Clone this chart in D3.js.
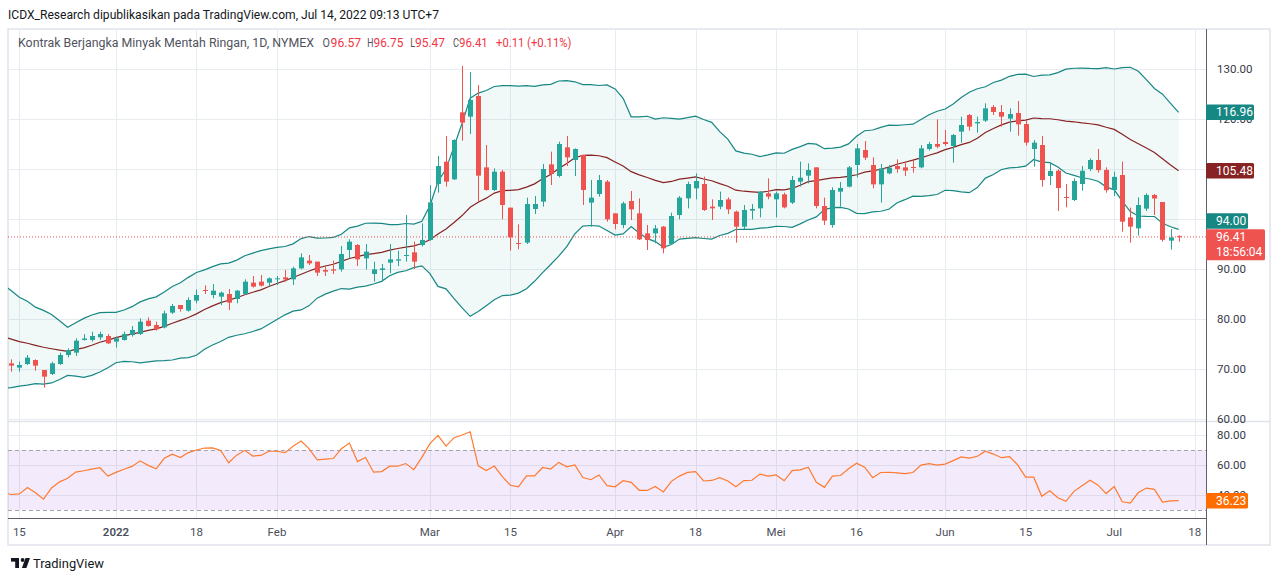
<!DOCTYPE html>
<html>
<head>
<meta charset="utf-8">
<script src="https://cdnjs.cloudflare.com/ajax/libs/d3/7.8.5/d3.min.js"></script>
<style>
  body { margin: 0; background: #fff; }
  svg { display: block; font-family: Roboto, "Noto Sans", sans-serif; }
</style>
</head>
<body>
<svg id="chart" width="1280" height="581"></svg>
<script>
// Crude oil futures (CL, NYMEX) daily candles, Bollinger Bands (20, 2) and RSI (14)

// daily bars from Dec 14 2021 to Jul 14 2022
const opens = [71.13,70.27,71.0,71.8,69.8,69.0,71.0,72.8,73.27,75.8,
  75.8,76.33,76.6,75.47,75.8,76.8,77.0,79.67,78.8,78.33,
  81.27,82.8,81.67,83.67,85.8,84.8,84.47,85.0,84.0,85.0,
  87.27,87.47,87.27,87.93,88.33,87.93,90.13,91.67,91.47,89.8,
  89.93,89.93,93.8,94.8,92.13,89.0,89.8,91.27,91.67,92.6,
  93.33,94.8,95.8,107.0,111.47,107.93,121.33,120.47,124.6,110.33,
  105.8,109.47,102.27,95.2,95.27,102.0,103.47,110.93,108.6,114.33,
  111.8,112.8,103.27,105.0,107.47,101.13,98.8,103.6,101.13,97.13,
  97.13,98.47,95.0,100.8,104.13,106.13,107.0,102.47,102.47,103.93,
  101.47,98.47,101.67,102.13,105.13,103.93,104.93,103.27,107.47,108.67,
  110.33,102.6,98.8,105.47,106.47,110.8,113.8,110.8,106.93,109.13,
  110.6,110.33,110.4,110.33,114.0,115.0,115.4,114.6,117.47,120.8,
  119.13,119.67,122.4,121.4,120.07,121.2,119.0,114.0,114.8,108.6,
  109.67,104.4,103.8,107.0,110.0,111.8,109.8,105.8,108.8,100.33,
  98.13,102.07,104.8,103.4,95.67,96.57];
const highs = [71.93,71.47,72.8,71.93,69.8,71.47,73.27,74.13,76.13,76.97,
  77.47,77.47,77.0,76.47,77.47,78.6,80.13,80.33,79.47,81.67,
  83.0,82.8,84.33,85.93,86.73,87.0,85.47,86.0,85.8,87.93,
  88.6,88.8,88.33,88.6,89.8,90.47,93.13,92.8,91.47,90.6,
  91.67,94.6,95.93,95.0,95.0,91.47,91.0,95.0,93.67,100.8,
  95.47,99.13,106.8,112.6,116.6,115.93,130.6,129.4,126.8,114.8,
  110.13,109.8,102.27,98.93,104.27,104.6,111.0,113.47,115.47,116.6,
  114.13,112.8,107.8,108.8,107.8,101.13,103.47,105.6,104.13,98.8,
  98.8,98.6,101.27,104.6,107.47,109.13,108.47,103.93,105.47,104.33,
  101.67,102.8,103.0,105.6,108.13,105.47,105.27,108.6,111.47,111.13,
  110.33,104.27,106.33,107.4,110.6,115.0,115.6,112.33,111.0,110.8,
  111.93,111.47,111.6,114.8,115.4,119.93,117.8,117.0,120.47,121.0,
  120.47,123.13,122.8,122.8,122.13,123.6,119.8,115.8,116.6,111.13,
  109.93,107.0,108.13,110.6,112.13,114.0,110.33,109.47,111.47,102.27,
  104.33,105.13,105.0,103.4,98.0,96.75];
const lows = [69.47,69.47,70.8,69.67,66.27,68.8,70.8,72.33,72.6,75.67,
  75.47,75.8,75.0,74.27,75.67,76.47,76.8,78.47,77.67,78.13,
  81.0,81.47,81.47,83.13,85.0,84.13,82.8,81.8,83.13,84.8,
  86.27,86.47,86.47,86.8,87.47,86.8,89.93,90.8,88.6,88.6,
  89.0,89.47,92.13,90.6,89.93,87.47,87.47,89.13,90.6,91.47,
  90.0,94.5,95.67,105.27,106.47,107.8,115.67,117.0,103.47,105.67,
  105.6,99.93,93.67,93.93,95.0,101.0,102.47,106.8,108.33,110.6,
  108.6,102.8,98.47,104.47,99.47,97.93,98.13,99.8,95.8,93.8,
  95.13,93.13,94.8,99.93,102.13,103.93,101.6,99.8,101.93,101.0,
  95.27,97.93,99.93,100.33,103.93,100.33,102.13,103.0,106.47,107.13,
  102.13,98.8,98.27,102.47,106.33,108.33,111.8,106.13,103.27,108.93,
  109.27,108.6,109.27,110.13,113.67,114.13,114.6,111.27,115.27,117.67,
  117.27,119.4,120.8,118.47,117.47,116.67,114.67,110.47,106.47,106.8,
  101.6,102.33,103.6,105.67,109.6,109.27,105.27,104.6,97.47,95.27,
  96.67,101.6,100.8,95.47,93.87,95.47];
const closes = [70.67,70.8,72.27,70.67,68.47,71.13,72.8,73.8,75.67,76.1,
  76.6,77.0,75.13,76.13,77.0,77.8,79.47,78.6,77.93,81.13,
  82.6,82.0,83.8,84.8,85.6,85.67,85.27,83.27,85.67,87.47,
  86.47,86.67,88.13,88.13,87.93,90.13,92.33,91.13,89.27,89.47,
  89.67,93.0,95.47,91.93,93.47,89.93,90.13,91.93,91.93,92.8,
  91.47,95.8,103.33,110.6,107.47,115.8,119.27,123.8,108.67,105.8,
  109.47,102.8,96.33,95.0,103.0,103.0,110.0,109.0,115.0,112.33,
  114.0,105.8,104.27,107.8,99.93,99.0,103.13,101.93,95.93,95.8,
  98.13,94.13,100.6,104.27,107.0,107.6,101.8,102.13,103.8,101.93,
  98.47,101.8,102.0,105.47,104.47,105.13,102.33,107.8,108.27,109.8,
  102.6,99.67,105.8,106.2,110.33,114.13,112.27,106.93,110.13,110.27,
  110.0,109.67,110.2,114.13,115.0,114.47,115.0,116.8,118.8,118.47,
  119.4,122.13,121.4,120.47,121.0,118.93,115.27,115.27,107.8,109.6,
  106.19,104.27,107.6,109.65,111.8,109.78,105.76,108.43,99.47,98.47,
  102.8,104.8,104.09,95.84,96.30,96.41];

// closes before the first visible bar (Nov 1 - Dec 13 2021), only to warm up the bands and RSI
const warmupCloses = [84.05,83.91,80.86,78.81,81.27,81.93,84.15,81.34,81.59,80.79,
  80.88,80.76,78.36,79.01,76.10,76.75,78.50,78.39,68.15,69.95,
  66.18,65.57,66.50,66.26,69.49,72.05,72.36,70.94,71.67,71.29];

// time axis: bar index of each label
const tickBars = [1, 13, 23, 33, 52, 62, 75, 85, 95, 105, 116, 126, 137, 147];
const tickLabels = ["15", "2022", "18", "Feb", "Mar", "15", "Apr", "18", "Mei", "16", "Jun", "15", "Jul", "18"];
const priceTicks = [130, 120, 110, 100, 90, 80, 70, 60];
const rsiTicks = [80, 60, 40];
const rsiBands = [70, 30];
const countdown = "18:56:04";

const upCol = "#26a69a", downCol = "#ef5350", bandColor = "#178784", basisColor = "#872323",
  rsiColor = "#ff7a2e", gridColor = "#e7ecf1", axisText = "#4a4e59";

const svg = d3.select("#chart");
const pLeft = 8, pRight = 1206, boxRight = 1270, pTop = 29,
  mainBottom = 421, rsiTop = 422, rsiBottom = 518, boxBottom = 545;

const x = d3.scaleLinear().domain([0, 145]).range([11.3, 1178.6]);
const y = d3.scaleLinear().domain([60, 130]).range([419, 69]);
// the bands sit on their own (unpinned) scale in the original
const yBand = d3.scaleLinear().domain([94, 116.96]).range([229.3, 112.3]);
const yRsi = d3.scaleLinear().domain([30, 80]).range([510, 435]);

// ---- indicators
const all = warmupCloses.concat(closes);
const off = warmupCloses.length;
const bands = [];
for (let k = off - 1; k < all.length; k++) {
  const w = all.slice(k - 19, k + 1);
  const m = d3.mean(w);
  const sd = Math.sqrt(d3.mean(w, v => (v - m) * (v - m)));
  bands.push({ i: k - off, basis: m, upper: m + 2 * sd, lower: m - 2 * sd });
}
const rsi = [];
let avgUp = 0, avgDn = 0;
for (let k = 1; k < all.length; k++) {
  const ch = all[k] - all[k - 1];
  const u = Math.max(ch, 0), d = Math.max(-ch, 0);
  if (k <= 14) {
    avgUp += u / 14; avgDn += d / 14;
  } else {
    avgUp = (avgUp * 13 + u) / 14; avgDn = (avgDn * 13 + d) / 14;
  }
  if (k >= 14 && k >= off - 1) {
    rsi.push({ i: k - off, v: avgDn === 0 ? 100 : 100 - 100 / (1 + avgUp / avgDn) });
  }
}

// ---- frame
const defs = svg.append("defs");
defs.append("clipPath").attr("id", "clipMain").append("rect")
  .attr("x", pLeft).attr("y", pTop).attr("width", pRight - pLeft).attr("height", mainBottom - pTop);
defs.append("clipPath").attr("id", "clipRsi").append("rect")
  .attr("x", pLeft).attr("y", rsiTop).attr("width", pRight - pLeft).attr("height", rsiBottom - rsiTop);

svg.append("text").attr("x", 8).attr("y", 19).attr("font-size", 12).attr("fill", "#131722")
  .attr("textLength", 431).attr("lengthAdjust", "spacingAndGlyphs")
  .text("ICDX_Research dipublikasikan pada TradingView.com, Jul 14, 2022 09:13 UTC+7");

svg.append("rect").attr("x", pLeft).attr("y", pTop).attr("width", boxRight - pLeft).attr("height", boxBottom - pTop)
  .attr("fill", "none").attr("stroke", "#e0e3eb").attr("stroke-width", 1.5);

// grid
const grid = svg.append("g").attr("stroke", gridColor).attr("stroke-width", 1);
grid.selectAll("line.v").data(tickBars).join("line")
  .attr("x1", d => Math.round(x(d)) + 0.5).attr("x2", d => Math.round(x(d)) + 0.5)
  .attr("y1", pTop).attr("y2", rsiBottom);
grid.selectAll("line.h").data(priceTicks).join("line").attr("class", "h")
  .attr("x1", pLeft).attr("x2", pRight)
  .attr("y1", d => Math.round(y(d)) + 0.5).attr("y2", d => Math.round(y(d)) + 0.5);

// ---- main pane
const main = svg.append("g").attr("clip-path", "url(#clipMain)");

main.append("path").datum(bands)
  .attr("fill", "rgba(25,135,135,0.06)")
  .attr("d", d3.area().x(d => x(d.i)).y0(d => yBand(d.lower)).y1(d => yBand(d.upper)));
["upper", "lower"].forEach(key => {
  main.append("path").datum(bands).attr("fill", "none").attr("stroke", bandColor).attr("stroke-width", 1.2)
    .attr("d", d3.line().x(d => x(d.i)).y(d => yBand(d[key])));
});
main.append("path").datum(bands).attr("fill", "none").attr("stroke", basisColor).attr("stroke-width", 1.2)
  .attr("d", d3.line().x(d => x(d.i)).y(d => yBand(d.basis)));

const lastClose = closes[closes.length - 1];
main.append("line").attr("x1", pLeft).attr("x2", pRight)
  .attr("y1", y(lastClose)).attr("y2", y(lastClose))
  .attr("stroke", downCol).attr("stroke-width", 1).attr("stroke-dasharray", "1,2");

const candles = main.append("g").selectAll("g").data(closes.map((c, i) => i)).join("g")
  .attr("fill", i => closes[i] >= opens[i] ? upCol : downCol)
  .attr("stroke", i => closes[i] >= opens[i] ? upCol : downCol);
candles.append("line")
  .attr("x1", i => Math.round(x(i)) + 0.5).attr("x2", i => Math.round(x(i)) + 0.5)
  .attr("y1", i => y(highs[i])).attr("y2", i => y(lows[i])).attr("stroke-width", 1);
candles.append("rect").attr("stroke", "none")
  .attr("x", i => Math.round(x(i)) - 2).attr("width", 5)
  .attr("y", i => y(Math.max(opens[i], closes[i])))
  .attr("height", i => Math.max(1, Math.abs(y(opens[i]) - y(closes[i]))));

// legend
const last = closes.length - 1;
const chg = closes[last] - closes[last - 1];
const legendColor = closes[last] >= opens[last] ? upCol : "#f23645";
const legend = [
  { t: "Kontrak Berjangka Minyak Mentah Ringan, 1D, NYMEX", x: 18, w: 296, c: "#50535e" },
  { t: "O", x: 322.4, w: 7.4, c: "#50535e" }, { t: opens[last].toFixed(2), x: 330.6, w: 30.6, c: legendColor },
  { t: "H", x: 367.3, w: 6.2, c: "#50535e" }, { t: highs[last].toFixed(2), x: 373.5, w: 29.8, c: legendColor },
  { t: "L", x: 410.2, w: 4.8, c: "#50535e" }, { t: lows[last].toFixed(2), x: 415, w: 30, c: legendColor },
  { t: "C", x: 453, w: 6, c: "#50535e" }, { t: closes[last].toFixed(2), x: 459, w: 28.8, c: legendColor },
  { t: (chg >= 0 ? "+" : "") + chg.toFixed(2) + " (" + (chg >= 0 ? "+" : "") + (chg / closes[last - 1] * 100).toFixed(2) + "%)",
    x: 496, w: 75.4, c: legendColor }
];
svg.append("g").attr("font-size", 12).selectAll("text").data(legend).join("text")
  .attr("x", d => d.x).attr("y", 46.5).attr("fill", d => d.c)
  .attr("textLength", d => d.w).attr("lengthAdjust", "spacingAndGlyphs")
  .text(d => d.t);

// ---- RSI pane
svg.append("line").attr("x1", pLeft).attr("x2", boxRight).attr("y1", mainBottom + 0.5).attr("y2", mainBottom + 0.5)
  .attr("stroke", "#e0e3eb").attr("stroke-width", 1.5);
const rsiG = svg.append("g").attr("clip-path", "url(#clipRsi)");
rsiG.selectAll("line.g").data(rsiTicks).join("line")
  .attr("x1", pLeft).attr("x2", pRight)
  .attr("y1", d => Math.round(yRsi(d)) + 0.5).attr("y2", d => Math.round(yRsi(d)) + 0.5)
  .attr("stroke", gridColor);
rsiG.append("rect").attr("x", pLeft).attr("width", pRight - pLeft)
  .attr("y", yRsi(rsiBands[0])).attr("height", yRsi(rsiBands[1]) - yRsi(rsiBands[0]))
  .attr("fill", "rgba(150,70,220,0.11)");
rsiG.selectAll("line.b").data(rsiBands).join("line")
  .attr("x1", pLeft).attr("x2", pRight)
  .attr("y1", d => Math.round(yRsi(d)) + 0.5).attr("y2", d => Math.round(yRsi(d)) + 0.5)
  .attr("stroke", "#a3a6af").attr("stroke-dasharray", "4,3");
rsiG.append("path").datum(rsi).attr("fill", "none").attr("stroke", rsiColor).attr("stroke-width", 1.2)
  .attr("d", d3.line().x(d => x(d.i)).y(d => yRsi(d.v)));

// ---- axes
svg.append("line").attr("x1", pLeft).attr("x2", pRight + 0.5).attr("y1", rsiBottom + 0.5).attr("y2", rsiBottom + 0.5)
  .attr("stroke", "#5d606b");
svg.append("line").attr("x1", pRight + 0.5).attr("x2", pRight + 0.5).attr("y1", pTop).attr("y2", boxBottom)
  .attr("stroke", "#5d606b");

svg.append("g").attr("font-size", 11.5).attr("fill", axisText).attr("text-anchor", "middle")
  .selectAll("text").data(tickBars).join("text")
  .attr("x", d => x(d)).attr("y", 536)
  .attr("font-weight", (d, k) => tickLabels[k] === "2022" ? 600 : null)
  .text((d, k) => tickLabels[k]);

// value tags on the right axis
const lb = bands[bands.length - 1];
const yClose = y(lastClose);
let yLow = yBand(lb.lower);
if (yLow > yClose - 16) yLow = yClose - 16;
const lr = rsi[rsi.length - 1];
const tags = [
  { y: yBand(lb.upper), w: 48, bg: bandColor, lines: [lb.upper.toFixed(2)] },
  { y: yBand(lb.basis), w: 48, bg: basisColor, lines: [lb.basis.toFixed(2)] },
  { y: yLow, w: 42, bg: bandColor, lines: [lb.lower.toFixed(2)] },
  { y: yClose, w: 59, bg: downCol, lines: [lastClose.toFixed(2), countdown] },
  { y: yRsi(lr.v), w: 42, bg: "#ff6d00", lines: [lr.v.toFixed(2)] }
];
// axis labels that a tag covers completely are not drawn
const covered = yy => tags.some(t => Math.abs(t.y - yy) < 4);

const axisLabels = svg.append("g").attr("font-size", 11.5).attr("fill", "#363a45");
axisLabels.selectAll("text.p").data(priceTicks.filter(d => !covered(y(d)))).join("text").attr("class", "p")
  .attr("x", 1217).attr("y", d => y(d) + 4).text(d => d.toFixed(2));
axisLabels.selectAll("text.r").data(rsiTicks.filter(d => !covered(yRsi(d)))).join("text").attr("class", "r")
  .attr("x", 1217).attr("y", d => yRsi(d) + 4).text(d => d.toFixed(2));

tags.forEach(t => {
  const h = t.lines.length > 1 ? 31 : 15.5;
  const g = svg.append("g");
  g.append("rect").attr("x", pRight).attr("y", t.y - 7.75).attr("width", t.w).attr("height", h)
    .attr("rx", 1.5).attr("fill", t.bg);
  t.lines.forEach((s, k) => {
    g.append("text").attr("x", 1216).attr("y", t.y + 4.2 + k * 15).attr("font-size", 12)
      .attr("fill", "#fff").text(s);
  });
});

// ---- TradingView mark
const logo = svg.append("g").attr("fill", "#131722");
logo.append("rect").attr("x", 11).attr("y", 558).attr("width", 8).attr("height", 3.6);
logo.append("rect").attr("x", 15.2).attr("y", 558).attr("width", 3.8).attr("height", 10);
logo.append("circle").attr("cx", 22.6).attr("cy", 560).attr("r", 1.9);
logo.append("path").attr("d", "M25.5,558 L30,558 L26.4,568 L21.9,568 Z");
svg.append("text").attr("x", 33).attr("y", 568).attr("font-size", 13.5).attr("fill", "#131722")
  .attr("textLength", 71).attr("lengthAdjust", "spacingAndGlyphs").text("TradingView");
</script>
</body>
</html>
